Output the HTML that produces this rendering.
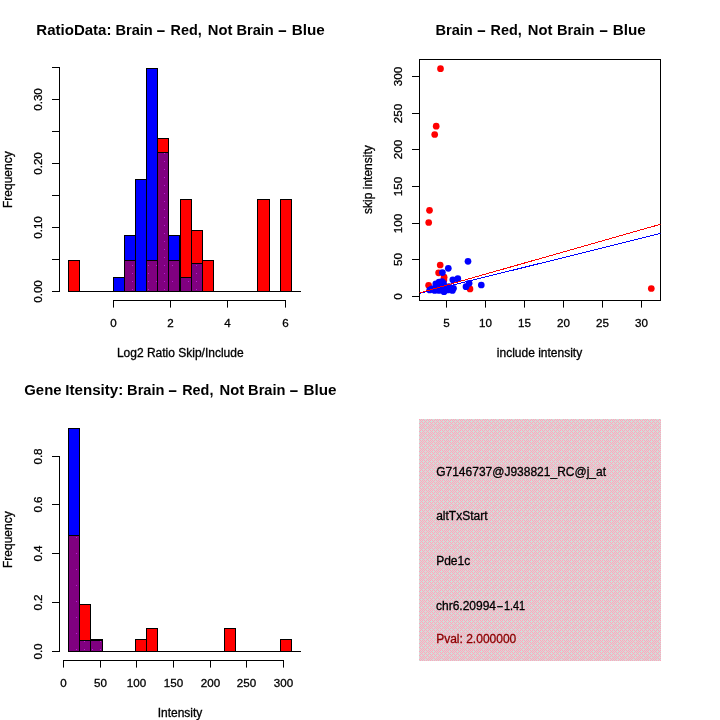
<!DOCTYPE html>
<html><head><meta charset="utf-8"><title>Plots</title>
<style>
html,body{margin:0;padding:0;background:#fff;}
svg{display:block;}
text{font-family:"Liberation Sans",sans-serif;font-size:12px;fill:#000;stroke:#000;stroke-width:.3px;}
.k{font-size:11.6px;}
.t{font-weight:bold;font-size:14px;stroke:none;}
.ln{stroke:#000;stroke-width:1;fill:none;}
.r{fill:#f00;stroke:#000;stroke-width:1;}
.b{fill:#00f;stroke:#000;stroke-width:1;}
.p{fill:url(#pp);stroke:#000;stroke-width:1;}
.rd{fill:#f00;}
.bd{fill:#00f;}
</style></head><body>
<svg width="720" height="720" viewBox="0 0 720 720">
<defs>
<pattern id="dz" width="8" height="8" patternUnits="userSpaceOnUse" x="419" y="419">
<rect width="8" height="8" fill="#d4dad8"/>
<path fill="#ffa6bc" d="M0 0h1v1h-1zM0 4h1v1h-1zM1 1h1v1h-1zM1 3h1v1h-1zM1 5h1v1h-1zM1 7h1v1h-1zM2 0h1v1h-1zM2 2h1v1h-1zM2 6h1v1h-1zM3 1h1v1h-1zM3 3h1v1h-1zM3 5h1v1h-1zM3 7h1v1h-1zM4 0h1v1h-1zM4 4h1v1h-1zM4 6h1v1h-1zM5 1h1v1h-1zM5 3h1v1h-1zM5 5h1v1h-1zM5 7h1v1h-1zM6 2h1v1h-1zM6 6h1v1h-1zM7 1h1v1h-1zM7 3h1v1h-1zM7 5h1v1h-1zM7 7h1v1h-1z"/>
</pattern>
<pattern id="pp" width="16" height="16" patternUnits="userSpaceOnUse">
<rect width="16" height="16" fill="#800080"/>
<path fill="#b820d4" d="M4 9h1v1h-1zM12 9h1v1h-1zM4 1h1v1h-1z"/>
</pattern>
<clipPath id="c2"><rect x="419.5" y="59.5" width="241" height="241"/></clipPath>
</defs>
<rect width="720" height="720" fill="#fff"/>

<g id="panel1">
<text class="t" y="34.6"><tspan x="36.3" textLength="75.2" lengthAdjust="spacingAndGlyphs">RatioData:</tspan> <tspan x="115.4" textLength="37.4" lengthAdjust="spacingAndGlyphs">Brain</tspan> <tspan x="156.0" textLength="9.8" lengthAdjust="spacingAndGlyphs">-</tspan> <tspan x="170.5" textLength="31.2" lengthAdjust="spacingAndGlyphs">Red,</tspan> <tspan x="207.8" textLength="24.6" lengthAdjust="spacingAndGlyphs">Not</tspan> <tspan x="236.4" textLength="37.4" lengthAdjust="spacingAndGlyphs">Brain</tspan> <tspan x="277.4" textLength="9.8" lengthAdjust="spacingAndGlyphs">-</tspan> <tspan x="291.8" textLength="33" lengthAdjust="spacingAndGlyphs">Blue</tspan></text>
<text text-anchor="middle" transform="translate(11.7,179.7) rotate(-90)">Frequency</text>
<text text-anchor="middle" x="180.25" y="356.75">Log2 Ratio Skip/Include</text>
<line class="ln" x1="59.5" y1="67" x2="59.5" y2="292"/>
<line class="ln" x1="52" y1="291.5" x2="60" y2="291.5"/>
<text class="k" text-anchor="middle" transform="translate(42,291.5) rotate(-90)">0.00</text>
<line class="ln" x1="52" y1="259.5" x2="60" y2="259.5"/>
<line class="ln" x1="52" y1="227.5" x2="60" y2="227.5"/>
<text class="k" text-anchor="middle" transform="translate(42,227.5) rotate(-90)">0.10</text>
<line class="ln" x1="52" y1="195.5" x2="60" y2="195.5"/>
<line class="ln" x1="52" y1="163.5" x2="60" y2="163.5"/>
<text class="k" text-anchor="middle" transform="translate(42,163.5) rotate(-90)">0.20</text>
<line class="ln" x1="52" y1="131.5" x2="60" y2="131.5"/>
<line class="ln" x1="52" y1="99.5" x2="60" y2="99.5"/>
<text class="k" text-anchor="middle" transform="translate(42,99.5) rotate(-90)">0.30</text>
<line class="ln" x1="52" y1="67.5" x2="60" y2="67.5"/>
<line class="ln" x1="113" y1="300.5" x2="286" y2="300.5"/>
<line class="ln" x1="113.5" y1="300" x2="113.5" y2="307.6"/>
<text class="k" text-anchor="middle" x="113.5" y="327">0</text>
<line class="ln" x1="170.5" y1="300" x2="170.5" y2="307.6"/>
<text class="k" text-anchor="middle" x="170.5" y="327">2</text>
<line class="ln" x1="227.5" y1="300" x2="227.5" y2="307.6"/>
<text class="k" text-anchor="middle" x="227.5" y="327">4</text>
<line class="ln" x1="285.5" y1="300" x2="285.5" y2="307.6"/>
<text class="k" text-anchor="middle" x="285.5" y="327">6</text>
<line class="ln" x1="68" y1="291.5" x2="301" y2="291.5"/>
<rect class="r" x="68.50" y="260.50" width="11.00" height="31.00"/>
<rect class="r" x="124.50" y="260.50" width="11.00" height="31.00"/>
<rect class="r" x="146.50" y="260.50" width="11.00" height="31.00"/>
<rect class="r" x="157.50" y="138.50" width="11.00" height="153.00"/>
<rect class="r" x="168.50" y="260.50" width="11.00" height="31.00"/>
<rect class="r" x="180.50" y="199.50" width="11.00" height="92.00"/>
<rect class="r" x="191.50" y="230.50" width="11.00" height="61.00"/>
<rect class="r" x="202.50" y="260.50" width="11.00" height="31.00"/>
<rect class="r" x="257.50" y="199.50" width="12.00" height="92.00"/>
<rect class="r" x="280.50" y="199.50" width="11.00" height="92.00"/>
<rect class="b" x="113.50" y="277.50" width="11.00" height="14.00"/>
<rect class="b" x="124.50" y="235.50" width="11.00" height="56.00"/>
<rect class="p" x="124.50" y="260.50" width="11.00" height="31.00"/>
<rect class="b" x="135.50" y="179.50" width="11.00" height="112.00"/>
<rect class="b" x="146.50" y="68.50" width="11.00" height="223.00"/>
<rect class="p" x="146.50" y="260.50" width="11.00" height="31.00"/>
<rect class="p" x="157.50" y="152.50" width="11.00" height="139.00"/>
<rect class="b" x="168.50" y="235.50" width="11.00" height="56.00"/>
<rect class="p" x="168.50" y="260.50" width="11.00" height="31.00"/>
<rect class="p" x="180.50" y="277.50" width="11.00" height="14.00"/>
<rect class="p" x="191.50" y="263.50" width="11.00" height="28.00"/>
</g>
<g id="panel2">
<text class="t" y="34.6"><tspan x="435.4" textLength="37.4" lengthAdjust="spacingAndGlyphs">Brain</tspan> <tspan x="476.6" textLength="9.8" lengthAdjust="spacingAndGlyphs">-</tspan> <tspan x="490.5" textLength="31.2" lengthAdjust="spacingAndGlyphs">Red,</tspan> <tspan x="527.8" textLength="24.6" lengthAdjust="spacingAndGlyphs">Not</tspan> <tspan x="557.0" textLength="37.4" lengthAdjust="spacingAndGlyphs">Brain</tspan> <tspan x="598.8" textLength="9.8" lengthAdjust="spacingAndGlyphs">-</tspan> <tspan x="612.8" textLength="33" lengthAdjust="spacingAndGlyphs">Blue</tspan></text>
<text text-anchor="middle" transform="translate(371.7,179.6) rotate(-90)">skip intensity</text>
<text text-anchor="middle" x="539.5" y="356.75">include intensity</text>
<rect class="ln" x="419.5" y="59.5" width="241" height="241"/>
<line class="ln" x1="412" y1="296.5" x2="420" y2="296.5"/>
<text class="k" text-anchor="middle" transform="translate(402,296.5) rotate(-90)">0</text>
<line class="ln" x1="412" y1="259.5" x2="420" y2="259.5"/>
<text class="k" text-anchor="middle" transform="translate(402,259.5) rotate(-90)">50</text>
<line class="ln" x1="412" y1="223.5" x2="420" y2="223.5"/>
<text class="k" text-anchor="middle" transform="translate(402,223.5) rotate(-90)">100</text>
<line class="ln" x1="412" y1="186.5" x2="420" y2="186.5"/>
<text class="k" text-anchor="middle" transform="translate(402,186.5) rotate(-90)">150</text>
<line class="ln" x1="412" y1="149.5" x2="420" y2="149.5"/>
<text class="k" text-anchor="middle" transform="translate(402,149.5) rotate(-90)">200</text>
<line class="ln" x1="412" y1="113.5" x2="420" y2="113.5"/>
<text class="k" text-anchor="middle" transform="translate(402,113.5) rotate(-90)">250</text>
<line class="ln" x1="412" y1="76.5" x2="420" y2="76.5"/>
<text class="k" text-anchor="middle" transform="translate(402,76.5) rotate(-90)">300</text>
<line class="ln" x1="446.5" y1="300" x2="446.5" y2="307.6"/>
<text class="k" text-anchor="middle" x="446.5" y="327">5</text>
<line class="ln" x1="485.5" y1="300" x2="485.5" y2="307.6"/>
<text class="k" text-anchor="middle" x="485.5" y="327">10</text>
<line class="ln" x1="524.5" y1="300" x2="524.5" y2="307.6"/>
<text class="k" text-anchor="middle" x="524.5" y="327">15</text>
<line class="ln" x1="563.5" y1="300" x2="563.5" y2="307.6"/>
<text class="k" text-anchor="middle" x="563.5" y="327">20</text>
<line class="ln" x1="602.5" y1="300" x2="602.5" y2="307.6"/>
<text class="k" text-anchor="middle" x="602.5" y="327">25</text>
<line class="ln" x1="641.5" y1="300" x2="641.5" y2="307.6"/>
<text class="k" text-anchor="middle" x="641.5" y="327">30</text>
<circle class="rd" cx="440.5" cy="68.7" r="3.35"/>
<circle class="rd" cx="436.2" cy="126.2" r="3.35"/>
<circle class="rd" cx="434.7" cy="134.5" r="3.35"/>
<circle class="rd" cx="429.5" cy="210.3" r="3.35"/>
<circle class="rd" cx="428.7" cy="222.5" r="3.35"/>
<circle class="rd" cx="440.2" cy="265" r="3.35"/>
<circle class="rd" cx="438.6" cy="272.8" r="3.35"/>
<circle class="rd" cx="444.1" cy="277.2" r="3.35"/>
<circle class="rd" cx="428.6" cy="285.3" r="3.35"/>
<circle class="rd" cx="470" cy="288.9" r="3.35"/>
<circle class="rd" cx="443.9" cy="279.9" r="3.35"/>
<circle class="rd" cx="651.3" cy="288.5" r="3.35"/>
<circle class="bd" cx="468" cy="261.3" r="3.35"/>
<circle class="bd" cx="448.3" cy="268.3" r="3.35"/>
<circle class="bd" cx="442.4" cy="272.6" r="3.35"/>
<circle class="bd" cx="457.8" cy="278.7" r="3.35"/>
<circle class="bd" cx="452.8" cy="279.8" r="3.35"/>
<circle class="bd" cx="481.3" cy="285" r="3.35"/>
<circle class="bd" cx="469.1" cy="283.3" r="3.35"/>
<circle class="bd" cx="466" cy="286.7" r="3.35"/>
<circle class="bd" cx="439.1" cy="282.2" r="3.35"/>
<circle class="bd" cx="435.8" cy="283.9" r="3.35"/>
<circle class="bd" cx="441.9" cy="281.7" r="3.35"/>
<circle class="bd" cx="443.5" cy="283.3" r="3.35"/>
<circle class="bd" cx="429.7" cy="290" r="3.35"/>
<circle class="bd" cx="434.7" cy="290.5" r="3.35"/>
<circle class="bd" cx="439" cy="290.5" r="3.35"/>
<circle class="bd" cx="444" cy="291.7" r="3.35"/>
<circle class="bd" cx="448" cy="290" r="3.35"/>
<circle class="bd" cx="452.4" cy="290.5" r="3.35"/>
<circle class="bd" cx="453.5" cy="288.3" r="3.35"/>
<circle class="bd" cx="449" cy="286.7" r="3.35"/>
<circle class="bd" cx="444.7" cy="287.2" r="3.35"/>
<circle class="bd" cx="440.2" cy="286.7" r="3.35"/>
<circle class="bd" cx="435.8" cy="287.2" r="3.35"/>
<circle class="bd" cx="431.9" cy="288.9" r="3.35"/>
<g clip-path="url(#c2)" shape-rendering="crispEdges">
<line x1="419.5" y1="293.4" x2="660.5" y2="233.4" stroke="#00f" stroke-width="1"/>
<line x1="419.5" y1="292.9" x2="660.5" y2="224.3" stroke="#f00" stroke-width="1"/>
</g>
</g>
<g id="panel3">
<text class="t" y="394.6"><tspan x="24.3" textLength="37.2" lengthAdjust="spacingAndGlyphs">Gene</tspan> <tspan x="65.3" textLength="58" lengthAdjust="spacingAndGlyphs">Itensity:</tspan> <tspan x="127.10000000000001" textLength="37.4" lengthAdjust="spacingAndGlyphs">Brain</tspan> <tspan x="167.7" textLength="9.8" lengthAdjust="spacingAndGlyphs">-</tspan> <tspan x="182.2" textLength="31.2" lengthAdjust="spacingAndGlyphs">Red,</tspan> <tspan x="219.5" textLength="24.6" lengthAdjust="spacingAndGlyphs">Not</tspan> <tspan x="248.10000000000002" textLength="37.4" lengthAdjust="spacingAndGlyphs">Brain</tspan> <tspan x="289.1" textLength="9.8" lengthAdjust="spacingAndGlyphs">-</tspan> <tspan x="303.5" textLength="33" lengthAdjust="spacingAndGlyphs">Blue</tspan></text>
<text text-anchor="middle" transform="translate(11.7,539.7) rotate(-90)">Frequency</text>
<text text-anchor="middle" x="180" y="716.75">Intensity</text>
<line class="ln" x1="59.5" y1="456" x2="59.5" y2="652"/>
<line class="ln" x1="52" y1="651.5" x2="60" y2="651.5"/>
<text class="k" text-anchor="middle" transform="translate(42,651.5) rotate(-90)">0.0</text>
<line class="ln" x1="52" y1="602.5" x2="60" y2="602.5"/>
<text class="k" text-anchor="middle" transform="translate(42,602.5) rotate(-90)">0.2</text>
<line class="ln" x1="52" y1="553.5" x2="60" y2="553.5"/>
<text class="k" text-anchor="middle" transform="translate(42,553.5) rotate(-90)">0.4</text>
<line class="ln" x1="52" y1="504.5" x2="60" y2="504.5"/>
<text class="k" text-anchor="middle" transform="translate(42,504.5) rotate(-90)">0.6</text>
<line class="ln" x1="52" y1="456.5" x2="60" y2="456.5"/>
<text class="k" text-anchor="middle" transform="translate(42,456.5) rotate(-90)">0.8</text>
<line class="ln" x1="63" y1="660.5" x2="284" y2="660.5"/>
<line class="ln" x1="63.5" y1="660" x2="63.5" y2="667.6"/>
<text class="k" text-anchor="middle" x="63.5" y="687">0</text>
<line class="ln" x1="100.5" y1="660" x2="100.5" y2="667.6"/>
<text class="k" text-anchor="middle" x="100.5" y="687">50</text>
<line class="ln" x1="136.5" y1="660" x2="136.5" y2="667.6"/>
<text class="k" text-anchor="middle" x="136.5" y="687">100</text>
<line class="ln" x1="173.5" y1="660" x2="173.5" y2="667.6"/>
<text class="k" text-anchor="middle" x="173.5" y="687">150</text>
<line class="ln" x1="210.5" y1="660" x2="210.5" y2="667.6"/>
<text class="k" text-anchor="middle" x="210.5" y="687">200</text>
<line class="ln" x1="246.5" y1="660" x2="246.5" y2="667.6"/>
<text class="k" text-anchor="middle" x="246.5" y="687">250</text>
<line class="ln" x1="283.5" y1="660" x2="283.5" y2="667.6"/>
<text class="k" text-anchor="middle" x="283.5" y="687">300</text>
<line class="ln" x1="68" y1="651.5" x2="301" y2="651.5"/>
<rect class="r" x="68.50" y="535.50" width="11.00" height="116.00"/>
<rect class="r" x="79.50" y="604.50" width="11.00" height="47.00"/>
<rect class="r" x="90.50" y="639.50" width="12.00" height="12.00"/>
<rect class="r" x="135.50" y="639.50" width="11.00" height="12.00"/>
<rect class="r" x="146.50" y="628.50" width="11.00" height="23.00"/>
<rect class="r" x="224.50" y="628.50" width="11.00" height="23.00"/>
<rect class="r" x="280.50" y="639.50" width="11.00" height="12.00"/>
<rect class="b" x="68.50" y="428.50" width="11.00" height="223.00"/>
<rect class="p" x="68.50" y="535.50" width="11.00" height="116.00"/>
<rect class="p" x="79.50" y="640.50" width="11.00" height="11.00"/>
<rect class="p" x="90.50" y="640.50" width="12.00" height="11.00"/>
</g>
<g id="panel4">
<rect x="419" y="419" width="242" height="242" fill="url(#dz)"/>
<text x="436.2" y="476.1">G7146737@J938821_RC@j_at</text>
<text x="436.2" y="520.4">altTxStart</text>
<text x="436.2" y="564.8">Pde1c</text>
<text y="610.1"><tspan x="436">chr6.20994</tspan><tspan x="496.4" textLength="7" lengthAdjust="spacingAndGlyphs">-</tspan><tspan x="503.9" textLength="21.2" lengthAdjust="spacingAndGlyphs">1.41</tspan></text>
<text style="fill:#8b0000;stroke:#8b0000" x="436.2" y="642.6">Pval: 2.000000</text>
</g>
</svg></body></html>
